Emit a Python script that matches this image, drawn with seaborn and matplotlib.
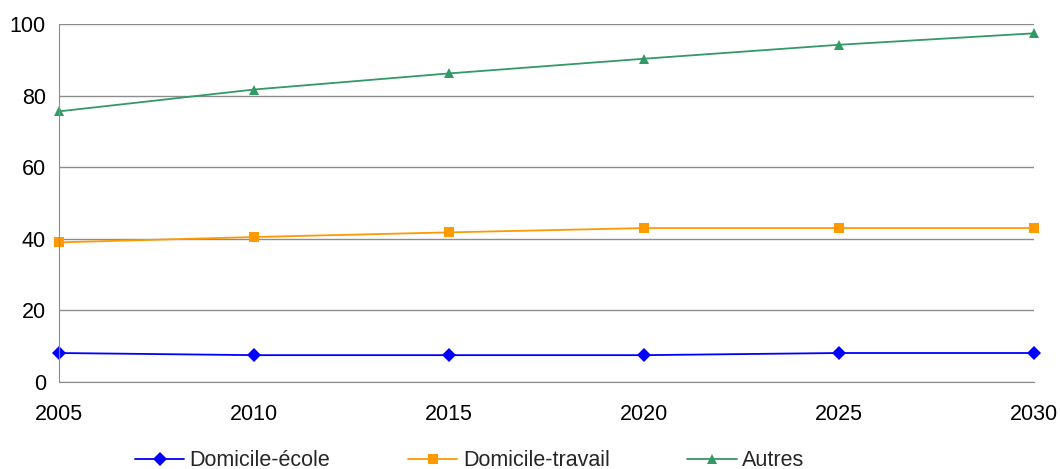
import pandas as pd
import numpy as np
import matplotlib
matplotlib.use('Agg')
import matplotlib.pyplot as plt
import seaborn as sns

years = [2005, 2010, 2015, 2020, 2025, 2030]
domicile_ecole = [8.1, 7.5, 7.5, 7.5, 8.1, 8.1]
domicile_travail = [39.0, 40.5, 41.8, 43.0, 43.0, 43.0]
autres = [75.6, 81.7, 86.2, 90.3, 94.2, 97.4]

series = ['Domicile-école', 'Domicile-travail', 'Autres']
colors = ['#0000FF', '#FF9900', '#339966']
markers = ['D', 's', '^']

df = pd.DataFrame({
    'year': years * 3,
    'value': domicile_ecole + domicile_travail + autres,
    'serie': [s for s in series for _ in years],
})

sns.set_style('white')
plt.rcParams['font.family'] = ['Liberation Sans', 'DejaVu Sans']

fig, ax = plt.subplots(figsize=(10.6, 4.69), dpi=100)
fig.subplots_adjust(left=0.0557, right=0.9755, top=0.9488, bottom=0.1855)

sns.lineplot(data=df, x='year', y='value', hue='serie', style='serie',
             hue_order=series, style_order=series,
             palette=colors, markers=markers, dashes=False,
             markersize=7.5, markeredgewidth=0, linewidth=1.3, ax=ax)
for line in ax.lines:
    line.set_clip_on(False)

ax.set_xlim(2005, 2030)
ax.set_ylim(0, 100)
ax.set_xticks(years)
ax.set_yticks(range(0, 101, 20))
ax.yaxis.grid(True, color='#8c8c8c', linewidth=1)
ax.set_axisbelow(True)
ax.set_xlabel('')
ax.set_ylabel('')
for side in ['top', 'right']:
    ax.spines[side].set_visible(False)
for side in ['left', 'bottom']:
    ax.spines[side].set_color('#8c8c8c')
ax.tick_params(axis='both', which='both', direction='out', length=6,
               color='#8c8c8c', labelsize=15.5, labelcolor='black')
ax.tick_params(axis='x', pad=10)

handles, labels = ax.get_legend_handles_labels()
ax.legend(handles, labels, loc='center', bbox_to_anchor=(0.443, 0.018),
          bbox_transform=fig.transFigure, ncol=3, frameon=False,
          fontsize=15.5, handlelength=2.3, columnspacing=3.6, handletextpad=0.25)

plt.savefig('out.png', dpi=100)
